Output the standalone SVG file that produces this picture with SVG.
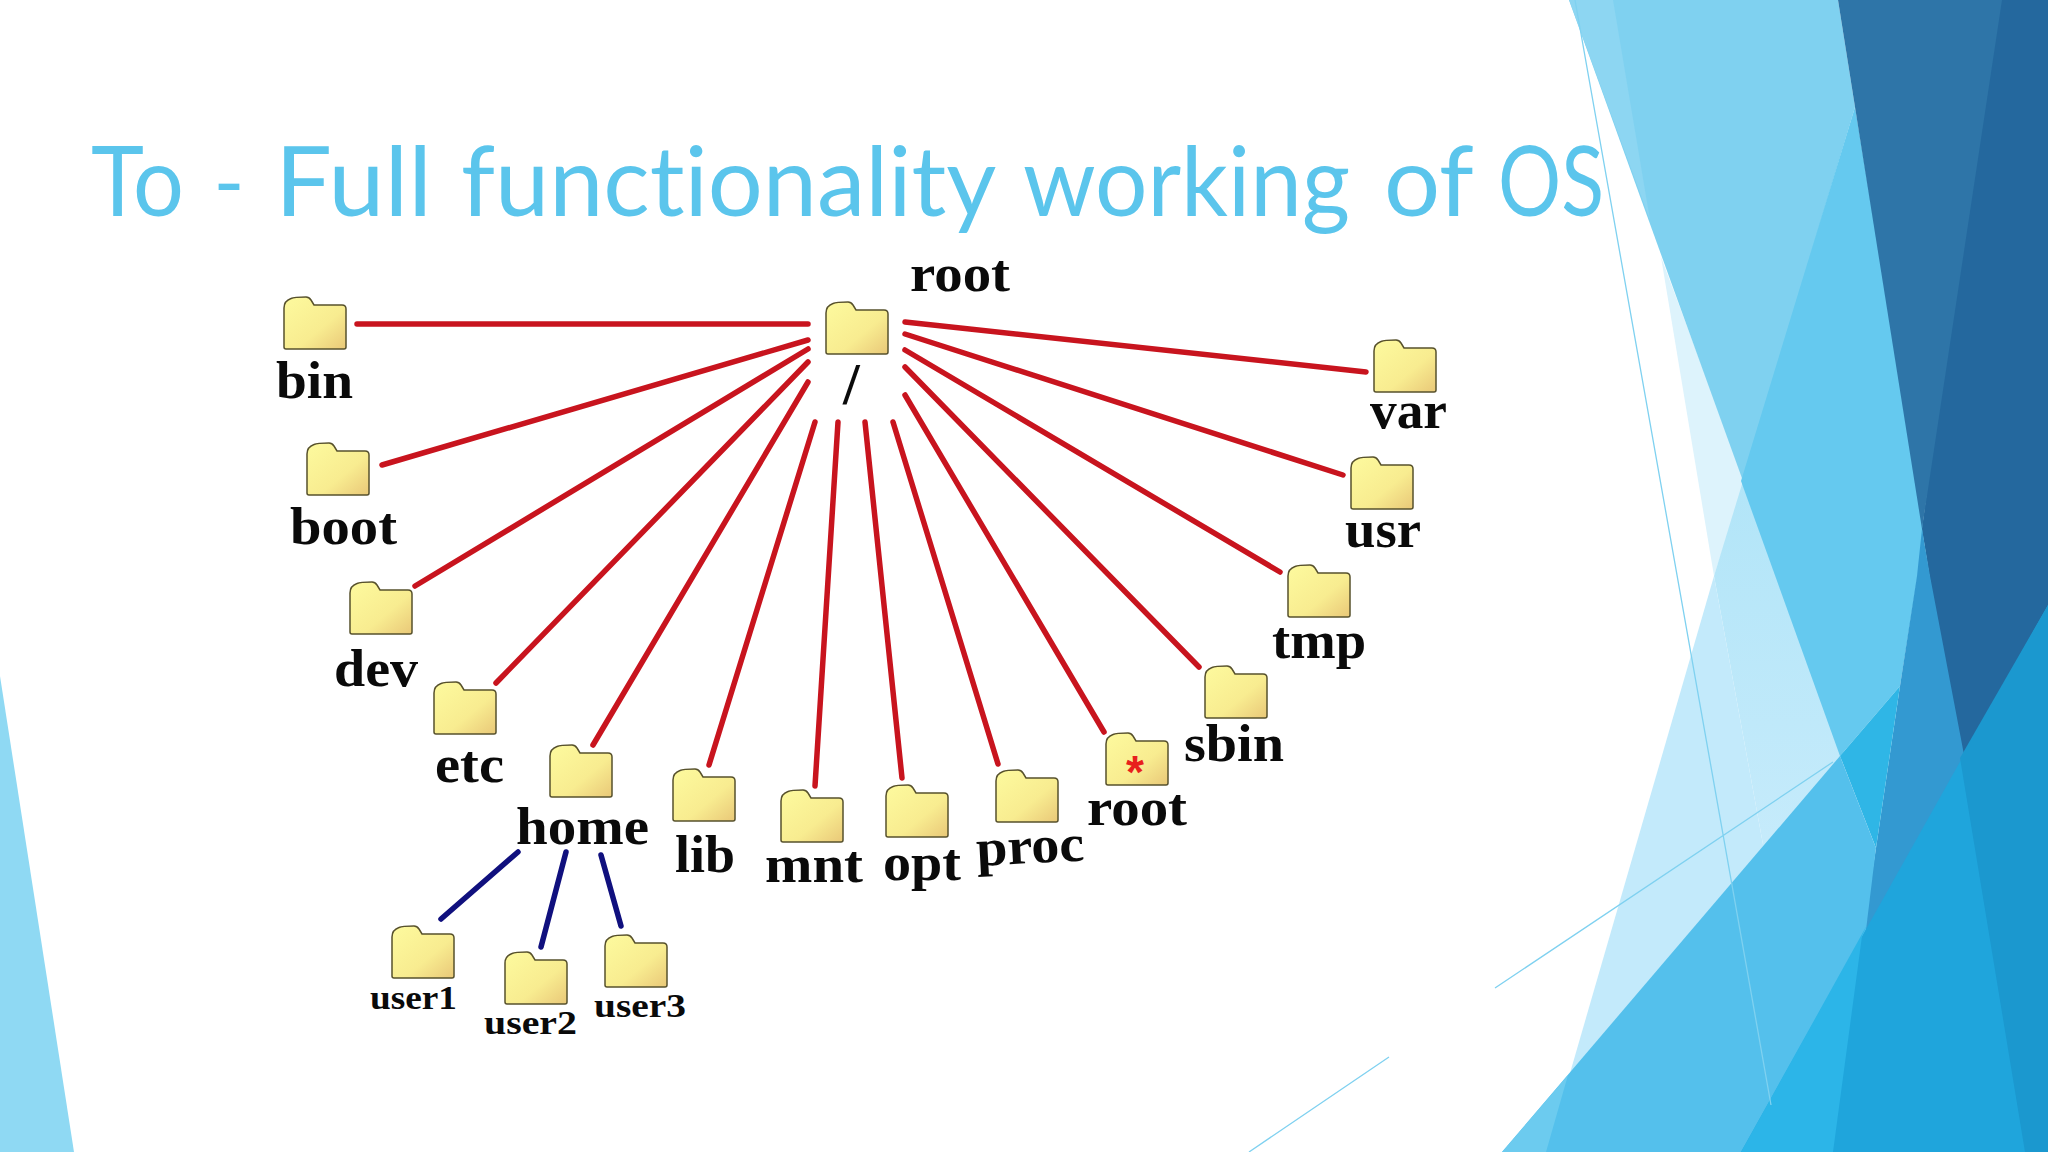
<svg xmlns="http://www.w3.org/2000/svg" width="2048" height="1152" viewBox="0 0 2048 1152">
<style>
.bg{stroke:none}
.thin{stroke:#7FD1F0;stroke-width:1.3;fill:none}
.title{font-family:"Lato","Open Sans",sans-serif;font-size:96px;fill:#5BC5EC;font-variant-ligatures:none}
.lb{font-family:"Liberation Serif",serif;font-weight:700;font-size:52px;fill:#0a0a0a}
.sm{font-family:"Liberation Serif",serif;font-weight:700;font-size:34px;fill:#0a0a0a}
.r{stroke:#C8141E;stroke-width:5.500;stroke-linecap:round}
.b{stroke:#10107E;stroke-width:5.500;stroke-linecap:round}
</style>
<defs>
<linearGradient id="fg" x1="0" y1="0" x2="1" y2="1"><stop offset="0" stop-color="#FDFA9E"/><stop offset="0.6" stop-color="#F8EC90"/><stop offset="1" stop-color="#E9C878"/></linearGradient>
<linearGradient id="pale" x1="0" y1="0" x2="0" y2="1"><stop offset="0" stop-color="#B2E5F8"/><stop offset="1" stop-color="#C6EBFB"/></linearGradient>
<symbol id="folder" width="66" height="56" viewBox="0 0 66 56" overflow="visible">
<path d="M1 50V11Q1 4 8 1.500Q11 0 23 0Q26 0 28 3L31 8H59Q63 8 63 12V50Q63 52 61 52H3Q1 52 1 50Z" fill="url(#fg)" stroke="#57512C" stroke-width="1.500"/>
</symbol>
</defs>
<rect width="2048" height="1152" fill="#FFFFFF"/>
<g id="background">
<polygon class="bg" points="0,676 0,1152 74,1152" fill="#8FD9F3"/>
<polygon class="bg" points="1661,257 1745,481 1714,576" fill="#DDF3FC"/>
<polygon class="bg" points="1743,481 1845,756 1764,850 1714,576" fill="url(#pale)"/>
<polygon class="bg" points="1714,576 1764,850 1568,1080" fill="#C3EAFB"/>
<polygon class="bg" points="1569,0 1838,0 1855,107 1743,481" fill="#7FD1F0"/>
<polygon class="bg" points="1569,0 1613,0 1650,220" fill="#8DD6F2"/>
<polygon class="bg" points="1855,107 1925,529 1917,580 1900,686 1840,756 1741,481" fill="#65C9EF"/>
<polygon class="bg" points="1990,0 2048,0 2048,620 1960,770 1922,529" fill="#24689E"/>
<polygon class="bg" points="1838,0 2002,0 1922,529" fill="#2E75A8"/>
<polygon class="bg" points="1922,529 1930,576 1965,760 1860,950 1876,848 1900,686 1917,576" fill="#3399D1"/>
<polygon class="bg" points="1840,756 1900,686 1876,848" fill="#2FB6E6"/>
<polygon class="bg" points="1840,756 1876,848 1866,930 1770,1152 1502,1152" fill="#54C0EC"/>
<polygon class="bg" points="1502,1152 1546,1152 1568,1075" fill="#6CCBEF"/>
<polygon class="bg" points="2048,605 2048,1152 1741,1152" fill="#1FA5DC"/>
<polygon class="bg" points="1741,1152 1833,1152 1862,936 1867,925" fill="#2CB5E8"/>
<polygon class="bg" points="2048,605 2048,1152 2025,1152 1960,758" fill="#1B98CF"/>
<path class="thin" d="M1575 0L1771 1105M1495 988L1833 762M1389 1057L1249 1152"/>
</g>
<text class="title" y="216"><tspan x="91" textLength="93" lengthAdjust="spacingAndGlyphs">To</tspan> <tspan x="214" textLength="30" lengthAdjust="spacingAndGlyphs">–</tspan> <tspan x="275" textLength="157" lengthAdjust="spacingAndGlyphs">Full</tspan> <tspan x="461" textLength="533" lengthAdjust="spacingAndGlyphs">functionality</tspan> <tspan x="1023" textLength="327" lengthAdjust="spacingAndGlyphs">working</tspan> <tspan x="1384" textLength="88" lengthAdjust="spacingAndGlyphs">of</tspan> <tspan x="1498" textLength="106" lengthAdjust="spacingAndGlyphs">OS</tspan></text>
<g id="connectors">
<path class="r" d="M357 324H808M382 465L808 340M415 586L808 349M496 683L808 362M593 745L808 382M709 765L815 422M815 786L838 422M902 778L865 422M998 764L893 422M1104 732L905 395M1199 667L905 367M1280 572L905 350M1343 475L905 334M1366 372L905 322"/>
<path class="b" d="M441 919L518 852M541 947L566 852M621 926L601 855"/>
</g>
<g id="node-root"><use href="#folder" x="825" y="302"/><text class="lb" x="910" y="291" textLength="100" lengthAdjust="spacingAndGlyphs">root</text><text class="lb" x="843" y="404" style="font-size:60px">/</text></g>
<g id="node-bin"><use href="#folder" x="283" y="297"/><text class="lb" x="276" y="398" textLength="77" lengthAdjust="spacingAndGlyphs">bin</text></g>
<g id="node-boot"><use href="#folder" x="306" y="443"/><text class="lb" x="290" y="544" textLength="107" lengthAdjust="spacingAndGlyphs">boot</text></g>
<g id="node-dev"><use href="#folder" x="349" y="582"/><text class="lb" x="334" y="686" textLength="84" lengthAdjust="spacingAndGlyphs">dev</text></g>
<g id="node-etc"><use href="#folder" x="433" y="682"/><text class="lb" x="435" y="782" textLength="69" lengthAdjust="spacingAndGlyphs">etc</text></g>
<g id="node-home"><use href="#folder" x="549" y="745"/><text class="lb" x="516" y="844" textLength="133" lengthAdjust="spacingAndGlyphs">home</text></g>
<g id="node-lib"><use href="#folder" x="672" y="769"/><text class="lb" x="675" y="872" textLength="60" lengthAdjust="spacingAndGlyphs">lib</text></g>
<g id="node-mnt"><use href="#folder" x="780" y="790"/><text class="lb" x="765" y="882" textLength="98" lengthAdjust="spacingAndGlyphs">mnt</text></g>
<g id="node-opt"><use href="#folder" x="885" y="785"/><text class="lb" x="883" y="880" textLength="78" lengthAdjust="spacingAndGlyphs">opt</text></g>
<g id="node-proc"><use href="#folder" x="995" y="770"/><text class="lb" x="977" y="866" textLength="108" lengthAdjust="spacingAndGlyphs" transform="rotate(-3 977 866)">proc</text></g>
<g id="node-root-home"><use href="#folder" x="1105" y="733"/><text x="1126" y="788" style="font-family:'Liberation Sans',sans-serif;font-size:46px;font-weight:700;fill:#E8201C">*</text><text class="lb" x="1087" y="825" textLength="100" lengthAdjust="spacingAndGlyphs">root</text></g>
<g id="node-sbin"><use href="#folder" x="1204" y="666"/><text class="lb" x="1184" y="761" textLength="100" lengthAdjust="spacingAndGlyphs">sbin</text></g>
<g id="node-tmp"><use href="#folder" x="1287" y="565"/><text class="lb" x="1272" y="658" textLength="94" lengthAdjust="spacingAndGlyphs">tmp</text></g>
<g id="node-usr"><use href="#folder" x="1350" y="457"/><text class="lb" x="1345" y="547" textLength="76" lengthAdjust="spacingAndGlyphs">usr</text></g>
<g id="node-var"><use href="#folder" x="1373" y="340"/><text class="lb" x="1370" y="428" textLength="77" lengthAdjust="spacingAndGlyphs">var</text></g>
<g id="node-user1"><use href="#folder" x="391" y="926"/><text class="sm" x="370" y="1009" textLength="87" lengthAdjust="spacingAndGlyphs">user1</text></g>
<g id="node-user2"><use href="#folder" x="504" y="952"/><text class="sm" x="484" y="1034" textLength="93" lengthAdjust="spacingAndGlyphs">user2</text></g>
<g id="node-user3"><use href="#folder" x="604" y="935"/><text class="sm" x="594" y="1017" textLength="92" lengthAdjust="spacingAndGlyphs">user3</text></g>
</svg>
